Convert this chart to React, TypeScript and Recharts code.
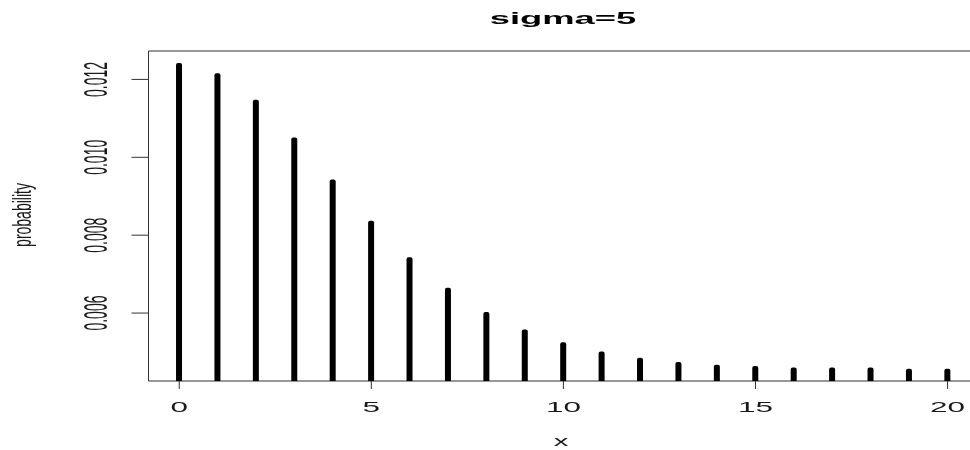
import React from "react";
import { BarChart, Bar, XAxis, YAxis, ReferenceArea } from "recharts";

// poisson-like probabilities, x = 0..20
const xs = [0, 1, 2, 3, 4, 5, 6, 7, 8, 9, 10, 11, 12, 13, 14, 15, 16, 17, 18, 19, 20];
const probs = [
  0.01242, 0.01216, 0.01148, 0.01051, 0.00943, 0.00837, 0.00743, 0.00665, 0.00603,
  0.00558, 0.00525, 0.00501, 0.00485, 0.00474, 0.00467, 0.00464, 0.0046, 0.0046,
  0.0046, 0.00457, 0.00457,
];
const xTicks = [0, 5, 10, 15, 20];
const yTicks = [0.006, 0.008, 0.01, 0.012];
const xDomain = [-0.8, 20.8];
const yDomain = [0.004255, 0.01273];

const data = xs.map((x, i) => ({ x, p: probs[i] }));

const FONT = "'Liberation Sans', Arial, sans-serif";
const INK = "#1a1a1a";

function YTick(props: any) {
  const { x, y, payload } = props;
  return (
    <text
      transform={`translate(${x - 24.5},${y}) scale(2.35,1) rotate(-90)`}
      textAnchor="middle"
      fontSize={14}
      fontFamily={FONT}
      fill={INK}
    >
      {Number(payload.value).toFixed(3)}
    </text>
  );
}

function XTick(props: any) {
  const { x, y, payload } = props;
  return (
    <text
      transform={`translate(${x},${y + 22.7}) scale(2.25,1)`}
      textAnchor="middle"
      fontSize={14}
      fontFamily={FONT}
      fill={INK}
    >
      {payload.value}
    </text>
  );
}

export default function App() {
  // fixed so the over-wide plot frame is cropped at the window edge without scrollbars
  return (
    <div style={{ position: "fixed", left: 8, top: 8, width: 962, height: 442, overflow: "hidden" }}>
      <BarChart
        width={980}
        height={442}
        data={data}
        margin={{ top: 43, right: 9.7, left: 0, bottom: 39 }}
      >
        <XAxis
          dataKey="x"
          type="number"
          domain={xDomain}
          ticks={xTicks}
          allowDataOverflow
          axisLine={false}
          tickSize={8}
          tickMargin={0}
          tickLine={{ stroke: "#333" }}
          tick={<XTick />}
          height={30}
        />
        <YAxis
          type="number"
          domain={yDomain}
          ticks={yTicks}
          allowDataOverflow
          axisLine={false}
          tickSize={17}
          tickMargin={0}
          tickLine={{ stroke: "#333" }}
          tick={<YTick />}
          width={140.5}
        />
        <Bar dataKey="p" fill="#000" barSize={6} radius={[2, 2, 0, 0]} isAnimationActive={false} />
        <ReferenceArea
          x1={xDomain[0]}
          x2={xDomain[1]}
          y1={yDomain[0]}
          y2={yDomain[1]}
          fill="none"
          fillOpacity={0}
          stroke="#333"
          strokeWidth={1}
          ifOverflow="visible"
        />
        <text
          transform="translate(555,15.5) scale(2.14,1)"
          textAnchor="middle"
          fontSize={17}
          fontWeight="bold"
          fontFamily={FONT}
          fill="#000"
        >
          sigma=5
        </text>
        <text
          transform="translate(553,438) scale(2.1,1)"
          textAnchor="middle"
          fontSize={14}
          fontFamily={FONT}
          fill={INK}
        >
          x
        </text>
        <text
          transform="translate(23,207) scale(1.9,1) rotate(-90)"
          textAnchor="middle"
          fontSize={14}
          fontFamily={FONT}
          fill={INK}
        >
          probability
        </text>
      </BarChart>
    </div>
  );
}
